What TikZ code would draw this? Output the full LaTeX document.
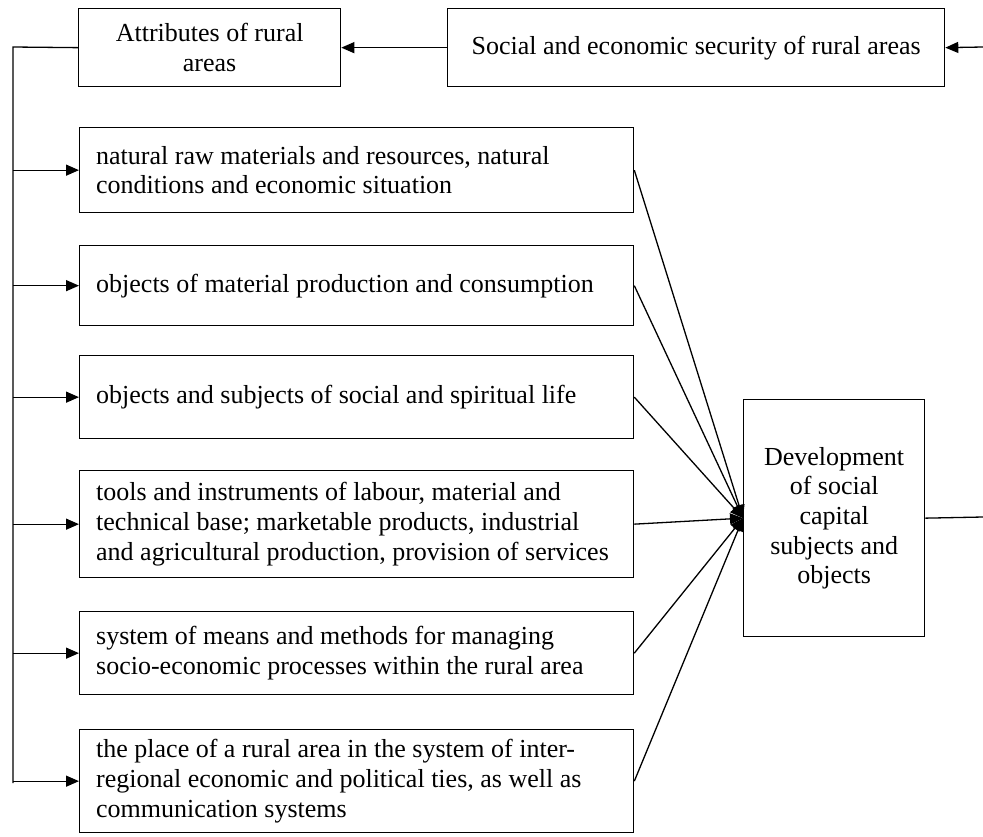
\documentclass[tikz,border=0pt]{standalone}
\usepackage{fontspec}
\setmainfont{Liberation Serif}
\usetikzlibrary{arrows.meta}
\begin{document}
\begin{tikzpicture}[x=1pt,y=-1pt,
  every node/.style={font=\fontsize{26}{29.7}\selectfont},
  box/.style={draw, line width=1.3pt, inner sep=0pt, anchor=north west},
  lbox/.style={box, minimum width=554pt},
  ltext/.style={anchor=west, align=left, inner sep=0pt, xshift=17pt},
  conn/.style={line width=1.3pt},
  arr/.style={conn, -{Triangle[length=13pt,width=11pt]}}]
\useasboundingbox (0,0) rectangle (983,836);
% top boxes
\node[box, align=center, minimum width=262pt, minimum height=78pt] (attr) at (78,8) {Attributes of rural\\areas};
\node[box, align=center, minimum width=497pt, minimum height=78pt] (soc) at (447,8) {Social and economic security of rural areas};
% left list boxes
\node[lbox, minimum height=85pt] (b1) at (79,127) {};
\node[ltext] (t1) at (b1.west) {natural raw materials and resources, natural\\conditions and economic situation};
\node[lbox, minimum height=80pt] (b2) at (79,245) {};
\node[ltext] (t2) at (b2.west) {objects of material production and consumption};
\node[lbox, minimum height=83pt] (b3) at (79,355) {};
\node[ltext] (t3) at (b3.west) {objects and subjects of social and spiritual life};
\node[lbox, minimum height=107pt] (b4) at (79,470) {};
\node[ltext] (t4) at (b4.west) {tools and instruments of labour, material and\\technical base; marketable products, industrial\\and agricultural production, provision of services};
\node[lbox, minimum height=83pt] (b5) at (79,611) {};
\node[ltext] (t5) at (b5.west) {system of means and methods for managing\\socio-economic processes within the rural area};
\node[lbox, minimum height=103pt] (b6) at (79,729) {};
\node[ltext] (t6) at (b6.west) {the place of a rural area in the system of inter-\\regional economic and political ties, as well as\\communication systems};
% development box
\node[box, align=center, minimum width=181pt, minimum height=237pt] (dev) at (743,399) {Development\\of social\\capital\\subjects and\\objects};
% coordinates
\coordinate (rin) at (983,47);
\coordinate (rout) at (983,517);
\coordinate (ltop) at (13,47);
\coordinate (lbot) at (13,783);
% top arrows
\draw[arr] (rin) -- (soc.east);
\draw[arr] (soc.west) -- (attr.east);
% left spine
\draw[conn] (attr.west) -- (ltop) -- (lbot);
\foreach \b in {b1,b2,b3,b4,b5,b6}{
  \draw[arr] (ltop |- \b.west) -- (\b.west);
  \draw[arr] (\b.east) -- (dev.west);
}
\draw[conn] (dev.east) -- (rout);
\end{tikzpicture}
\end{document}
